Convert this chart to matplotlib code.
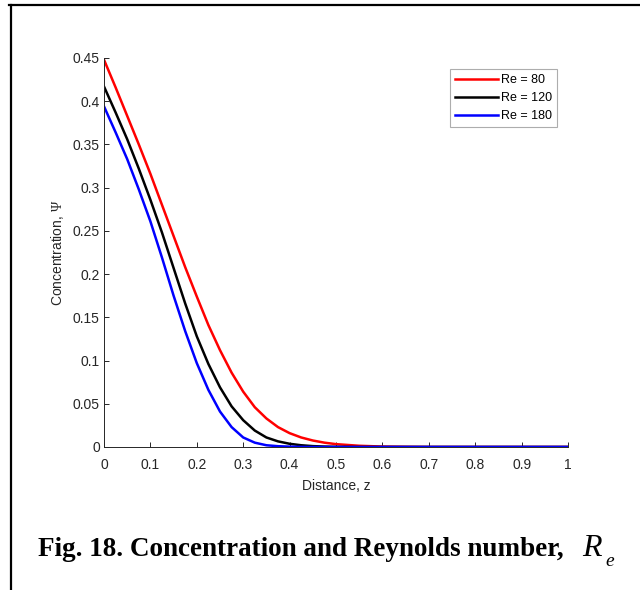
import matplotlib
matplotlib.use("Agg")
import matplotlib.pyplot as plt
from matplotlib.lines import Line2D

# distance z and concentration for each Reynolds number
z = [0, 0.025, 0.05, 0.075, 0.1, 0.125, 0.15, 0.175, 0.2, 0.225, 0.25,
     0.275, 0.3, 0.325, 0.35, 0.375, 0.4, 0.425, 0.45, 0.475, 0.5,
     0.55, 0.6, 0.65, 0.7, 0.8, 0.9, 1.0]
psi_re80 = [0.448, 0.416, 0.383, 0.350, 0.316, 0.280, 0.244, 0.208, 0.174,
            0.141, 0.112, 0.086, 0.064, 0.046, 0.033, 0.023, 0.016, 0.011,
            0.0075, 0.005, 0.0033, 0.0014, 0.0005, 0.0002, 0, 0, 0, 0]
psi_re120 = [0.417, 0.387, 0.356, 0.322, 0.286, 0.248, 0.207, 0.166, 0.128,
             0.096, 0.069, 0.047, 0.031, 0.019, 0.011, 0.0065, 0.0037, 0.002,
             0.001, 0.0005, 0.0002, 0, 0, 0, 0, 0, 0, 0]
psi_re180 = [0.394, 0.364, 0.333, 0.298, 0.261, 0.219, 0.175, 0.134, 0.097,
             0.066, 0.041, 0.023, 0.011, 0.005, 0.002, 0.0009, 0.0004, 0.0001,
             0, 0, 0, 0, 0, 0, 0, 0, 0, 0]
labels = ["Re = 80", "Re = 120", "Re = 180"]
colors = ["#ff0000", "#000000", "#0000ff"]

plt.rcParams["font.family"] = ["Liberation Sans", "DejaVu Sans"]
plt.rcParams["mathtext.fontset"] = "custom"
plt.rcParams["mathtext.rm"] = "Liberation Serif"
plt.rcParams["mathtext.it"] = "Liberation Serif:italic"
axis_gray = "#262626"

fig = plt.figure(figsize=(6.4, 5.9), dpi=100)
ax = fig.add_axes([0.1625, 0.2424, 0.725, 0.6593])

for psi, lab, col in zip([psi_re80, psi_re120, psi_re180], labels, colors):
    ax.plot(z, psi, color=col, lw=1.8, label=lab)

ax.set_xlim(0, 1)
ax.set_ylim(0, 0.45)
ax.set_xticks([i / 10 for i in range(11)])
ax.set_xticklabels(["0", "0.1", "0.2", "0.3", "0.4", "0.5", "0.6", "0.7", "0.8", "0.9", "1"])
ax.set_yticks([i * 0.05 for i in range(10)])
ax.set_yticklabels(["0", "0.05", "0.1", "0.15", "0.2", "0.25", "0.3", "0.35", "0.4", "0.45"])
ax.tick_params(direction="in", length=3.5, width=0.7, colors=axis_gray,
               labelsize=10)
ax.tick_params(axis="x", pad=8)
ax.tick_params(axis="y", pad=3)
for s in ["top", "right"]:
    ax.spines[s].set_visible(False)
for s in ["left", "bottom"]:
    ax.spines[s].set_color(axis_gray)
    ax.spines[s].set_linewidth(0.7)

ax.set_xlabel("Distance, z", fontsize=10, color=axis_gray, labelpad=5)
ax.set_ylabel("Concentration, $\\Psi$", fontsize=10, color=axis_gray, labelpad=5)

leg = ax.legend(loc="upper right", bbox_to_anchor=(0.976, 0.972), fontsize=9,
                frameon=True, fancybox=False, edgecolor="#999999",
                handlelength=3.4, handletextpad=0.25, borderpad=0.4,
                labelspacing=0.5, borderaxespad=0)
leg.get_frame().set_linewidth(0.8)

# caption below the plot
fig.text(0.06, 0.058, "Fig. 18. Concentration and Reynolds number,",
         fontsize=19.5, fontweight="bold", family="Liberation Serif",
         ha="left", va="baseline")
fig.text(0.909, 0.058, "R", fontsize=23, family="Liberation Serif",
         style="italic", ha="left", va="baseline")
fig.text(0.946, 0.040, "e", fontsize=14, family="Liberation Serif",
         style="italic", ha="left", va="baseline")

# page borders (top and left)
fig.add_artist(Line2D([0.014, 1.0], [0.991, 0.991], color="black", lw=1.6))
fig.add_artist(Line2D([0.017, 0.017], [0.0, 0.991], color="black", lw=1.6))

fig.savefig("out.png", dpi=100)
